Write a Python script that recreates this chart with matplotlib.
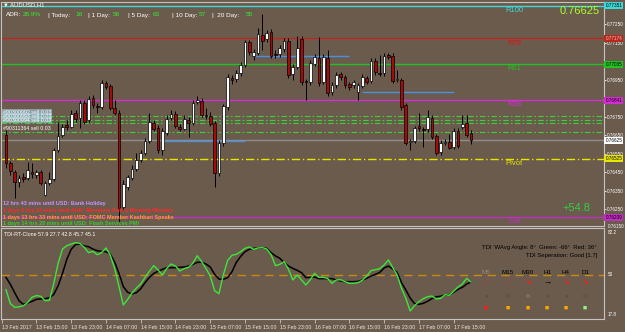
import matplotlib
matplotlib.use("Agg")
import matplotlib.pyplot as plt
import numpy as np

plt.rcParams["font.family"] = ["Liberation Sans", "DejaVu Sans"]

W, H = 625, 332
BG = "#6b5b4c"
FRAME = "#c4c4c4"

# AUDUSD H1 bars, 13 Feb 08:00 .. 17 Feb 19:00
opens = [0.76652, 0.76501, 0.76452, 0.76398, 0.76425, 0.76420, 0.76452, 0.76436, 0.76452, 0.76328,
         0.76393, 0.76415, 0.76571, 0.76652, 0.76706, 0.76696, 0.76771, 0.76744, 0.76825, 0.76733,
         0.76852, 0.76809, 0.76804, 0.76933, 0.76917, 0.76798, 0.76771, 0.76263, 0.76371, 0.76420,
         0.76469, 0.76517, 0.76555, 0.76620, 0.76717, 0.76690, 0.76571, 0.76663, 0.76744, 0.76766,
         0.76696, 0.76685, 0.76733, 0.76717, 0.76831, 0.76836, 0.76760, 0.76755, 0.76717, 0.76447,
         0.76609, 0.76804, 0.76960, 0.76955, 0.76987, 0.77031, 0.77155, 0.77079, 0.77096, 0.77193,
         0.77171, 0.77209, 0.77090, 0.77090, 0.77117, 0.77160, 0.76982, 0.77020, 0.77171, 0.76944,
         0.76939, 0.77036, 0.77069, 0.76939, 0.77069, 0.76885, 0.76923, 0.76982, 0.76966, 0.76928,
         0.76923, 0.76885, 0.76917, 0.76960, 0.76944, 0.77052, 0.76987, 0.76987, 0.77085, 0.77079,
         0.76950, 0.76950, 0.76814, 0.76614, 0.76620, 0.76701, 0.76685, 0.76685, 0.76744, 0.76647,
         0.76560, 0.76609, 0.76614, 0.76587, 0.76674, 0.76696, 0.76717, 0.76663]
highs = [0.76679, 0.76512, 0.76463, 0.76436, 0.76447, 0.76506, 0.76501, 0.76463, 0.76463, 0.76404,
         0.76452, 0.76582, 0.76723, 0.76712, 0.76733, 0.76787, 0.76787, 0.76842, 0.76842, 0.76863,
         0.76869, 0.76825, 0.76950, 0.76944, 0.76928, 0.76842, 0.76787, 0.76409, 0.76436, 0.76490,
         0.76555, 0.76571, 0.76636, 0.76771, 0.76733, 0.76706, 0.76690, 0.76760, 0.76787, 0.76782,
         0.76712, 0.76760, 0.76750, 0.76842, 0.76863, 0.76852, 0.76798, 0.76777, 0.76728, 0.76625,
         0.76820, 0.76982, 0.76977, 0.77004, 0.77047, 0.77166, 0.77166, 0.77117, 0.77231, 0.77306,
         0.77220, 0.77225, 0.77112, 0.77139, 0.77177, 0.77177, 0.77036, 0.77187, 0.77187, 0.76955,
         0.77058, 0.77090, 0.77182, 0.77090, 0.77112, 0.76939, 0.76993, 0.76993, 0.76977, 0.76939,
         0.76950, 0.76933, 0.76982, 0.76971, 0.77069, 0.77069, 0.77085, 0.77096, 0.77096, 0.77096,
         0.77004, 0.76960, 0.76825, 0.76631, 0.76701, 0.76771, 0.76696, 0.76787, 0.76760, 0.76658,
         0.76625, 0.76631, 0.76658, 0.76690, 0.76690, 0.76760, 0.76760, 0.76679]
lows = [0.76474, 0.76436, 0.76312, 0.76371, 0.76398, 0.76409, 0.76420, 0.76420, 0.76382, 0.76323,
        0.76382, 0.76404, 0.76560, 0.76642, 0.76679, 0.76690, 0.76723, 0.76690, 0.76712, 0.76723,
        0.76798, 0.76771, 0.76793, 0.76901, 0.76787, 0.76760, 0.76182, 0.76247, 0.76355, 0.76409,
        0.76458, 0.76506, 0.76544, 0.76609, 0.76674, 0.76555, 0.76544, 0.76652, 0.76733, 0.76690,
        0.76674, 0.76679, 0.76642, 0.76706, 0.76820, 0.76750, 0.76739, 0.76701, 0.76371, 0.76431,
        0.76593, 0.76787, 0.76928, 0.76939, 0.76971, 0.77020, 0.77085, 0.77058, 0.77085, 0.77112,
        0.77155, 0.77069, 0.77069, 0.77074, 0.77101, 0.76960, 0.76950, 0.77009, 0.76923, 0.76842,
        0.76923, 0.77025, 0.76917, 0.76928, 0.76863, 0.76869, 0.76906, 0.76950, 0.76906, 0.76896,
        0.76906, 0.76842, 0.76906, 0.76928, 0.76933, 0.76977, 0.76971, 0.76971, 0.77063, 0.76933,
        0.76939, 0.76787, 0.76598, 0.76571, 0.76609, 0.76674, 0.76587, 0.76669, 0.76631, 0.76544,
        0.76544, 0.76598, 0.76577, 0.76577, 0.76582, 0.76685, 0.76642, 0.76604]
closes = [0.76501, 0.76458, 0.76398, 0.76420, 0.76415, 0.76463, 0.76442, 0.76452, 0.76393, 0.76393,
          0.76415, 0.76571, 0.76647, 0.76696, 0.76696, 0.76766, 0.76739, 0.76825, 0.76723, 0.76847,
          0.76814, 0.76804, 0.76933, 0.76912, 0.76798, 0.76771, 0.76258, 0.76387, 0.76425, 0.76469,
          0.76517, 0.76555, 0.76620, 0.76723, 0.76685, 0.76571, 0.76674, 0.76739, 0.76766, 0.76701,
          0.76685, 0.76739, 0.76717, 0.76825, 0.76842, 0.76760, 0.76755, 0.76712, 0.76447, 0.76609,
          0.76809, 0.76966, 0.76950, 0.76987, 0.77031, 0.77155, 0.77101, 0.77101, 0.77198, 0.77160,
          0.77204, 0.77079, 0.77085, 0.77123, 0.77160, 0.76977, 0.77020, 0.77123, 0.76939, 0.76939,
          0.77041, 0.77074, 0.76933, 0.77074, 0.76879, 0.76923, 0.76977, 0.76966, 0.76923, 0.76912,
          0.76939, 0.76923, 0.76966, 0.76939, 0.77052, 0.76993, 0.76982, 0.77079, 0.77074, 0.76944,
          0.76955, 0.76804, 0.76609, 0.76620, 0.76690, 0.76690, 0.76679, 0.76750, 0.76642, 0.76555,
          0.76609, 0.76614, 0.76582, 0.76674, 0.76593, 0.76712, 0.76652, 0.76625]

# TDI sub-window: fast (green) and signal (black) lines per bar
tdi_green = [39.4, 29.3, 26.6, 26.9, 27.8, 30.2, 33.9, 35.1, 34.6, 31.4,
             31.7, 44.0, 58.5, 68.8, 71.2, 72.4, 73.4, 72.9, 70.0, 66.2,
             67.1, 64.7, 66.2, 69.6, 64.3, 54.8, 41.6, 28.3, 32.4, 37.0,
             40.6, 43.5, 48.3, 52.7, 56.8, 53.6, 50.0, 54.8, 58.0, 56.5,
             52.9, 54.6, 55.6, 58.5, 64.0, 59.7, 54.8, 49.3, 38.7, 36.5,
             50.0, 60.6, 64.3, 65.0, 66.9, 69.3, 70.3, 68.6, 69.6, 69.8,
             68.8, 64.7, 56.8, 57.7, 59.7, 54.1, 46.4, 50.0, 46.4, 42.8,
             46.6, 51.2, 48.3, 48.3, 47.6, 44.0, 46.4, 46.6, 45.2, 44.0,
             44.0, 44.5, 46.2, 49.3, 53.2, 53.9, 54.6, 57.3, 60.9, 55.3,
             50.0, 40.4, 33.1, 24.0, 27.8, 30.7, 32.9, 34.3, 34.8, 32.7,
             33.1, 35.8, 35.3, 38.2, 41.3, 43.5, 47.6, 44.9]
tdi_black = [48.3, 43.3, 37.2, 31.4, 28.8, 29.8, 31.0, 32.4, 32.7, 32.9,
             33.6, 36.0, 42.3, 51.2, 61.4, 68.6, 72.0, 72.5, 71.0, 70.5,
             68.8, 67.6, 67.1, 66.9, 65.0, 59.4, 51.2, 41.6, 37.5, 36.3,
             37.2, 40.1, 44.5, 48.3, 51.2, 52.7, 54.1, 55.3, 55.3, 55.3,
             55.6, 55.8, 56.5, 57.7, 59.2, 59.2, 58.0, 55.8, 50.5, 47.1,
             46.9, 48.1, 52.4, 59.2, 63.5, 66.9, 68.6, 69.3, 69.6, 69.6,
             69.3, 66.2, 63.8, 62.1, 59.0, 56.5, 54.8, 53.4, 51.7, 48.1,
             48.3, 48.6, 47.4, 47.4, 47.4, 47.4, 46.4, 45.7, 45.2, 45.2,
             45.2, 45.4, 46.4, 47.6, 49.3, 50.5, 51.9, 55.1, 56.5, 54.4,
             51.9, 44.5, 39.2, 33.4, 29.3, 28.8, 29.5, 31.0, 32.9, 34.3,
             34.6, 35.6, 35.6, 37.5, 39.6, 41.1, 43.5, 44.9]

level_names = ["R100", "R78", "R61", "R38", "Pivot", "S38"]
level_prices = [0.77351, 0.77174, 0.77035, 0.76841, 0.76525, 0.76209]
level_colors = ["#3fd8d8", "#b8281e", "#22c022", "#d62cd6", "#e6e600", "#c030c0"]
level_text_colors = ["#3fd8d8", "#e01010", "#22c022", "#d62cd6", "#e6e600", "#c030c0"]
level_box_text = ["black", "#f0c0c0", "black", "black", "black", "black"]

order_prices = [0.76755, 0.76736, 0.76717, 0.76671]
order_labels = ["#90300992 sell 0.03", "#90300993 sell 0.03", "#90300994 sell 0.03",
                "#90311364 sell 0.03"]
blue_prices = [0.77079, 0.76885, 0.76620]
blue_from = [57, 82, 36]
blue_to = [79, 103, 55]

bid = 0.76625
price_ticks = [0.77250, 0.77150, 0.76950, 0.76750, 0.76650, 0.76550,
               0.76450, 0.76350, 0.76250]

time_bars = [-1, 7, 15, 23, 31, 39, 47, 55, 63, 71, 79, 87, 95, 103]
time_labels = ["13 Feb 2017", "13 Feb 15:00", "13 Feb 23:00", "14 Feb 07:00",
               "14 Feb 15:00", "14 Feb 23:00", "15 Feb 07:00", "15 Feb 15:00",
               "15 Feb 23:00", "16 Feb 07:00", "16 Feb 15:00", "16 Feb 23:00",
               "17 Feb 07:00", "17 Feb 15:00"]

adr_labels = ["ADR:", "| Today:", "| 1 Day:", "| 5 Day:", "| 10 Day:", "|  20 Day:"]
adr_values = ["28.9%", "16", "56", "63", "57", "55"]

news_lines = ["12 hrs 43 mins until USD: Bank Holiday",
              "1 days 0 hrs 13 mins until AUD: Monetary Policy Meeting Minutes",
              "1 days 13 hrs 33 mins until USD: FOMC Member Kashkari Speaks",
              "1 days 14 hrs 28 mins until USD: Flash Services PMI"]
news_colors = ["#c890ff", "#ff2a2a", "#ffa020", "#30d030"]

tf_names = ["M5", "M15", "M30", "H1", "H4", "D1"]
tf_arrows = ["\u2193", "\u2193", "\u2198", "\u2192", "\u2198", "\u2198"]
tf_arrow_colors = ["#ff1a1a", "#ff1a1a", "#ff1a1a", "black", "#ff1a1a", "#ff1a1a"]
tf_marks = ["\u25cf", "O", "%", "\u25cf", "\u25cf", "O"]
tf_square_colors = ["#ff1a1a", "#ffa500", "#ffa500", "#ffa500", "#ffa500", "#90ee90"]


def bx(xpx):
    return (xpx - 6) / 4.346


def py(ypx):
    return 0.77382 - 0.00005405 * ypx


def fx(xpx):
    return xpx / W


def fy(ypx):
    return 1 - ypx / H


fig = plt.figure(figsize=(W / 100, H / 100), dpi=100, facecolor=BG)
ax = fig.add_axes([fx(1), fy(226), 603 / W, 224 / H], facecolor=BG)
ind = fig.add_axes([fx(1), fy(319), 603 / W, 91 / H], facecolor=BG)

for a in (ax, ind):
    a.set_xlim(bx(1), bx(604))
    for s in a.spines.values():
        s.set_color(FRAME)
        s.set_linewidth(0.8)
ax.set_ylim(py(226), py(2))
ind.set_ylim(18.18, 84.03)

# ---- main window ----
for p, col in zip(level_prices, level_colors):
    if col == "#e6e600":
        ax.axhline(p, color=col, lw=1.0, ls=(0, (6, 2, 1, 2)), zorder=1)
    else:
        ax.axhline(p, color=col, lw=1.0, zorder=1)
for p in order_prices:
    ax.axhline(p, color="#3ccf3c", lw=0.8, ls=(0, (5, 2, 1.5, 2)), zorder=1)
ax.axhline(bid, color="#8e8e8e", lw=1.0, zorder=1)
ax.hlines(blue_prices, blue_from, blue_to, color="#4a8fe0", lw=1.0, zorder=1)

x = np.arange(len(opens))
o, h, l, c = (np.array(v) for v in (opens, highs, lows, closes))
up = c >= o
ax.vlines(x, l, h, color="black", lw=0.7, zorder=3)
lo = np.minimum(o, c)
hgt = np.maximum(np.abs(c - o), 0.00002)
ax.bar(x[up], hgt[up], bottom=lo[up], width=0.62, color="white",
       edgecolor="black", lw=0.5, zorder=4)
ax.bar(x[~up], hgt[~up], bottom=lo[~up], width=0.62, color="#a30c0c",
       edgecolor="black", lw=0.5, zorder=4)

for name, p, col in zip(level_names, level_prices, level_text_colors):
    ax.annotate(name, (bx(514), p), xytext=(0, -3.4), textcoords="offset points",
                ha="center", va="center", fontsize=5.5, color=col, zorder=5)

ax.yaxis.tick_right()
ax.set_yticks(price_ticks)
ax.set_yticklabels([f"{t:.5f}" for t in price_ticks])
ax.tick_params(axis="y", length=1.3, width=0.6, color="white", labelcolor="white",
               labelsize=3.3, pad=0.8)
ax.set_xticks([])

for p, col, tc in zip(level_prices + [bid], level_colors + ["white"],
                      level_box_text + ["black"]):
    ax.annotate(f"{p:.5f}", (1.0, p), xycoords=("axes fraction", "data"),
                xytext=(1.0, 0), textcoords="offset points", ha="left", va="center",
                fontsize=3.3, color=tc, zorder=10, annotation_clip=False,
                bbox=dict(boxstyle="square,pad=0.22", fc=col, ec="none"))

ax.text(bx(600), py(11), f"{bid:.5f}", ha="right", va="center", fontsize=8,
        color="#a8ff2a", zorder=6)
ax.text(bx(590), py(208), "+54.8", ha="right", va="center", fontsize=8,
        color="#33cc44", zorder=6)

for i, (txt, p) in enumerate(zip(order_labels, order_prices)):
    ypx = [112, 116, 120, 128][i]
    kw = {}
    if i < 3:
        kw["bbox"] = dict(boxstyle="square,pad=0.1", fc="#a9d4ee", ec="none", alpha=0.55)
    ax.text(bx(3), py(ypx), txt, ha="left", va="center", fontsize=3.8,
            color="white", zorder=6, **kw)

for txt, col, ypx in zip(news_lines, news_colors, [203, 210, 217, 223]):
    ax.text(bx(3), py(ypx), txt, ha="left", va="center", fontsize=4,
            fontweight="bold", color=col, zorder=6)

# header and ADR readout
fig.text(fx(3), fy(5), "\u25bc AUDUSD,H1", ha="left", va="center", fontsize=4.2,
         color="white")
adr_lab_x = [6, 48, 88, 128, 172, 212]
adr_val_x = [23, 75, 113, 153, 199, 246]
for lab, lx, val, vx in zip(adr_labels, adr_lab_x, adr_values, adr_val_x):
    fig.text(fx(lx), fy(15), lab, ha="left", va="center", fontsize=4.6, color="white")
    fig.text(fx(vx), fy(15), val, ha="left", va="center", fontsize=4.6, color="#33ee33")

# ---- TDI window ----
ind.axhline(50, color="#c98a12", lw=1.0, ls=(0, (6, 4)), zorder=1)
ind.plot(x, tdi_black, color="black", lw=1.1, zorder=3)
ind.plot(x, tdi_green, color="#3ce63c", lw=1.0, zorder=4)
ind.set_yticks([])
ind.set_xticks(time_bars)
ind.set_xticklabels(time_labels, ha="left")
ind.tick_params(axis="x", length=3, width=0.6, color=FRAME, labelcolor="#e8e8e8",
                labelsize=3.8, pad=1.5)

fig.text(fx(4), fy(234), "TDI-RT-Clone 57.9 27.7 42.8 45.7 45.1", ha="left",
         va="center", fontsize=3.8, color="white")
for lab, ypx in zip(["82.2", "50", "17.8"], [233, 275, 315]):
    fig.text(fx(608), fy(ypx), lab, ha="left", va="center", fontsize=3.3, color="white")
fig.text(fx(608), fy(227), "0.76150", ha="left", va="center", fontsize=3.3, color="white")

fig.text(fx(597), fy(248), "TDI 'WAvg Angle: 8°  Green: -66°  Red: 36°", ha="right",
         va="center", fontsize=4.3, color="black")
fig.text(fx(597), fy(256), "TDI Seperation: Good [1.7]", ha="right", va="center",
         fontsize=4.3, color="black")
tf_x = [486, 508, 528, 547, 566, 585]
for k, (name, xp) in enumerate(zip(tf_names, tf_x)):
    fig.text(fx(xp), fy(272), name, ha="center", va="center", fontsize=4.5,
             color="#958878" if k == 0 else "black")
    fig.text(fx(xp), fy(283), tf_arrows[k], ha="center", va="center", fontsize=6,
             fontweight="bold", color=tf_arrow_colors[k])
    fig.text(fx(xp), fy(296), tf_marks[k], ha="center", va="center",
             fontsize=4.5 if tf_marks[k] != "%" else 3.5,
             color="#8a7f74" if tf_marks[k] == "%" else "#505050",
             fontweight="bold")
    fig.text(fx(xp), fy(308), "\u25a0", ha="center", va="center", fontsize=5,
             color=tf_square_colors[k])

fig.savefig("out.png", dpi=100, facecolor=BG)
